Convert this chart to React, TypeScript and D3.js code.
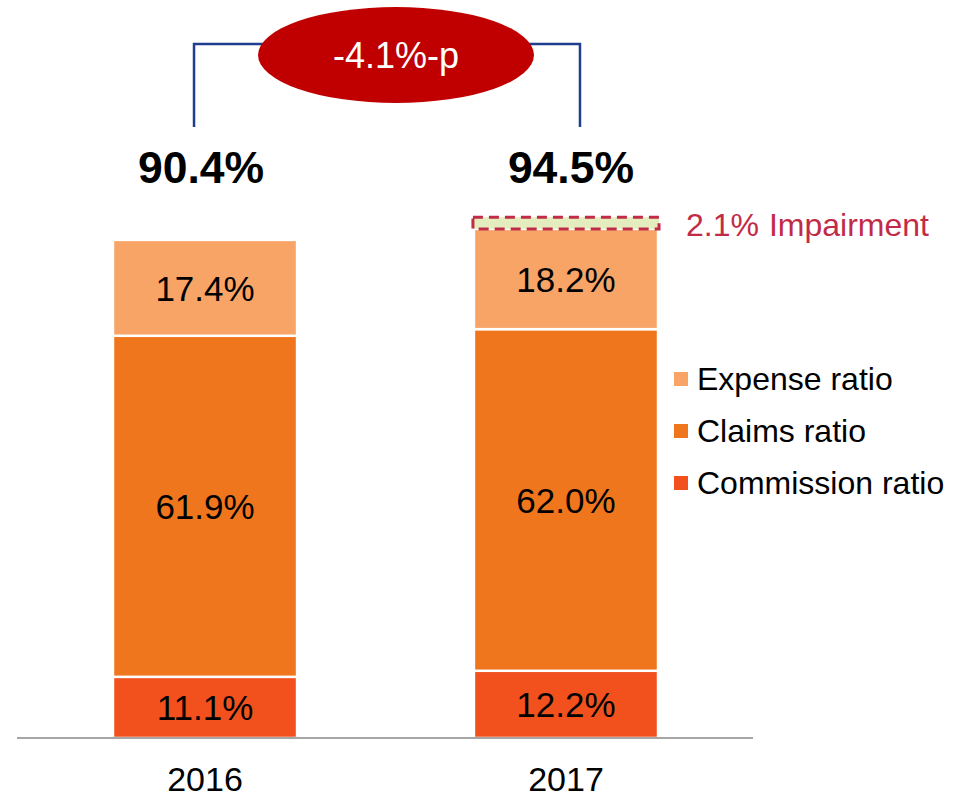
import { scaleBand, scaleLinear } from 'd3';

const years = ['2016', '2017'];
const commission = [11.1, 12.2];
const claims = [61.9, 62.0];
const expense = [17.4, 18.2];
const impairment = [0, 2.1];
const totals = ['90.4%', '94.5%'];
const changeLabel = '-4.1%-p';
const legendItems = ['Expense ratio', 'Claims ratio', 'Commission ratio'];

const colors = {
  expense: '#F8A466',
  claims: '#F0761E',
  commission: '#F2511D',
  impairment: '#E3EDBD',
  impairmentLine: '#C22B47',
  bracket: '#203E8E',
  bubble: '#C00000',
};

const font = '"Liberation Sans", Arial, sans-serif';

export default function App() {
  const width = 972,
    height = 799;

  const x = scaleBand<string>()
    .domain(years)
    .range([24, 747])
    .paddingInner(0.49)
    .paddingOuter(0.2465);

  const y = scaleLinear().domain([0, 100]).range([738, 187]);
  const bw = x.bandwidth();
  const cx = (yr: string) => (x(yr) ?? 0) + bw / 2;

  const series = [
    { key: 'commission', values: commission, color: colors.commission },
    { key: 'claims', values: claims, color: colors.claims },
    { key: 'expense', values: expense, color: colors.expense },
  ];

  const segments = years.flatMap((yr, i) => {
    let base = 0;
    return series.map((s) => {
      const v = s.values[i];
      const seg = { yr, key: s.key, y0: base, y1: base + v, v, color: s.color };
      base += v;
      return seg;
    });
  });

  const stackTop = (i: number) => commission[i] + claims[i] + expense[i];

  // bracket over the two totals
  const leftX = cx(years[0]) - 11;
  const rightX = cx(years[1]) + 14;
  const bubbleCx = (leftX + rightX) / 2 + 9;
  const bracketY = 44;
  const bracketBottom = 127;

  const totalShift = [-4, 5];
  const legendColors = [colors.expense, colors.claims, colors.commission];

  return (
    <svg
      width={width}
      height={height}
      style={{ display: 'block', position: 'absolute', left: 0, top: 0 }}
      fontFamily={font}
    >
      <rect width={width} height={height} fill="#fff" />

      <path
        d={`M${leftX},${bracketBottom}V${bracketY}H${bubbleCx}M${rightX},${bracketBottom}V${bracketY}H${bubbleCx}`}
        fill="none"
        stroke={colors.bracket}
        strokeWidth={2.5}
      />
      <ellipse cx={bubbleCx} cy={55} rx={138} ry={48} fill={colors.bubble} />
      <text x={bubbleCx} y={68} textAnchor="middle" fill="#fff" fontSize={36}>
        {changeLabel}
      </text>

      {/* totals */}
      {years.map((yr, i) => (
        <text
          key={yr}
          x={cx(yr) + totalShift[i]}
          y={183}
          textAnchor="middle"
          fontSize={44.5}
          fontWeight="bold"
          fill="#000"
        >
          {totals[i]}
        </text>
      ))}

      {/* bars */}
      {segments.map((s) => (
        <g key={s.yr + s.key}>
          <rect
            x={x(s.yr)}
            y={y(s.y1)}
            width={bw}
            height={y(s.y0) - y(s.y1)}
            fill={s.color}
            stroke="#fff"
            strokeWidth={2.5}
          />
          <text
            x={cx(s.yr)}
            y={(y(s.y0) + y(s.y1)) / 2 + 13}
            textAnchor="middle"
            fontSize={35}
            fill="#000"
          >
            {s.v.toFixed(1)}%
          </text>
        </g>
      ))}

      {/* impairment */}
      {years.map((yr, i) =>
        impairment[i] > 0 ? (
          <g key={'imp' + yr}>
            <rect
              x={(x(yr) ?? 0) - 1}
              y={y(stackTop(i) + impairment[i])}
              width={bw + 2}
              height={y(stackTop(i)) - y(stackTop(i) + impairment[i])}
              fill={colors.impairment}
              stroke={colors.impairmentLine}
              strokeWidth={3}
              strokeDasharray="10,6"
            />
            <text x={(x(yr) ?? 0) + bw + 28} y={236} fontSize={32} fill={colors.impairmentLine}>
              {impairment[i].toFixed(1)}%
              <tspan dx={10}>Impairment</tspan>
            </text>
          </g>
        ) : null
      )}

      {/* axis */}
      <line x1={17} x2={753} y1={y(0)} y2={y(0)} stroke="#A6A6A6" strokeWidth={2} />
      {years.map((yr) => (
        <text key={'lbl' + yr} x={cx(yr)} y={791} textAnchor="middle" fontSize={34} fill="#000">
          {yr}
        </text>
      ))}

      {/* legend */}
      {legendItems.map((name, i) => (
        <g key={name} transform={`translate(674,${390 + i * 52})`}>
          <rect x={0} y={-18} width={14} height={14} fill={legendColors[i]} />
          <text x={23} y={0} fontSize={32} fill="#000">
            {name}
          </text>
        </g>
      ))}
    </svg>
  );
}
